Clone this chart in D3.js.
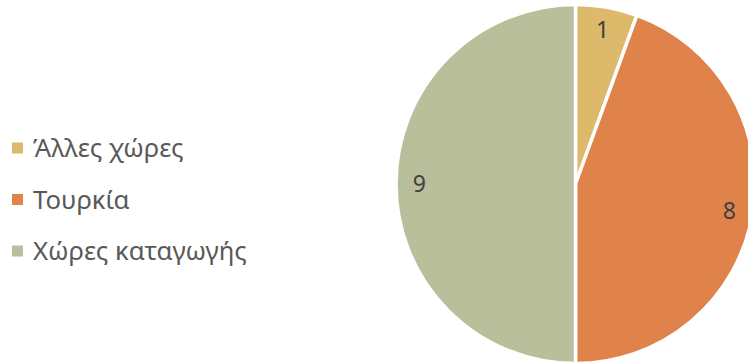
<!DOCTYPE html>
<meta charset="utf-8">
<style>
body { margin: 0; background: #fff; }
.legend text { font-family: "Noto Sans", sans-serif; font-size: 25.7px; fill: #595959; }
.labels text { font-family: "Noto Sans", sans-serif; font-size: 23px; fill: #404040; }
</style>
<svg width="748" height="362"></svg>
<script src="https://d3js.org/d3.v7.min.js"></script>
<script>

var categories = ["Άλλες χώρες", "Τουρκία", "Χώρες καταγωγής"];
var values = [1, 8, 9];
var colors = ["#DDB96C", "#E0834A", "#B9BF9A"];

var svg = d3.select("svg"),
    width = +svg.attr("width"),
    height = +svg.attr("height");

var cx = 575.5, cy = 184, radius = 179.5;

var data = categories.map(function(c, i) { return {name: c, value: values[i], color: colors[i]}; });

var pie = d3.pie()
    .sort(null)
    .value(function(d) { return d.value; });

var arc = d3.arc().innerRadius(0).outerRadius(radius);
var labelArc = d3.arc().innerRadius(radius * 0.87).outerRadius(radius * 0.87);

var g = svg.append("g").attr("transform", "translate(" + cx + "," + cy + ")");

g.selectAll("path")
    .data(pie(data))
    .enter().append("path")
    .attr("d", arc)
    .attr("fill", function(d) { return d.data.color; })
    .attr("stroke", "#fff")
    .attr("stroke-width", 3.5)
    .attr("stroke-linejoin", "round");

g.append("g").attr("class", "labels")
  .selectAll("text")
    .data(pie(data))
    .enter().append("text")
    .attr("transform", function(d) { return "translate(" + labelArc.centroid(d) + ")"; })
    .attr("text-anchor", "middle")
    .attr("dy", "0.35em")
    .text(function(d) { return d.data.value; });

var legend = svg.append("g").attr("class", "legend")
  .selectAll("g")
    .data(data)
    .enter().append("g")
    .attr("transform", function(d, i) { return "translate(12," + (148 + i * 51.5) + ")"; });

legend.append("rect")
    .attr("x", 0).attr("y", -5.5)
    .attr("width", 11).attr("height", 11)
    .attr("fill", function(d) { return d.color; });

legend.append("text")
    .attr("x", 21)
    .attr("dy", "0.35em")
    .text(function(d) { return d.name; });

</script>
